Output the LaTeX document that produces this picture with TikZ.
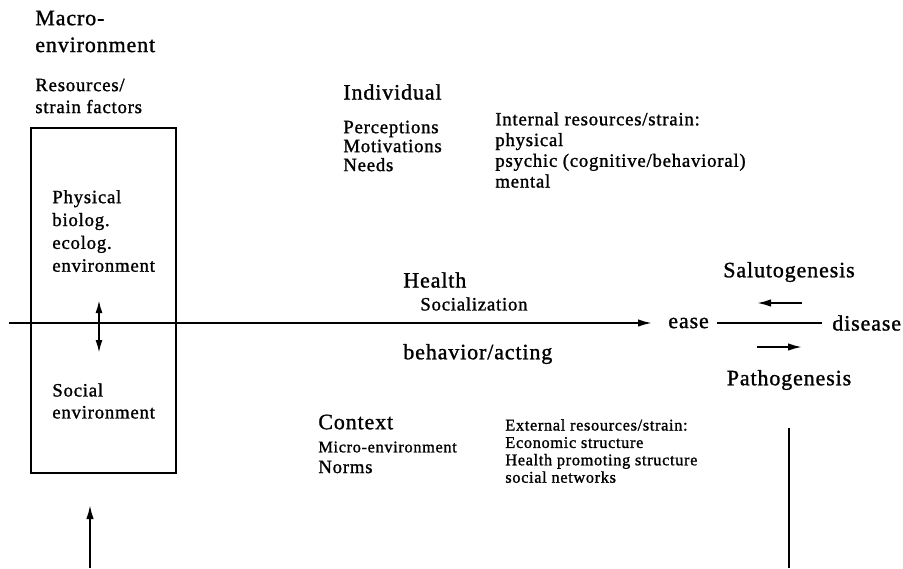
\documentclass[tikz,border=0pt]{standalone}
\usepackage{fontspec}
\setmainfont{Liberation Serif}[LetterSpace=4,FakeBold=1.2]
\usetikzlibrary{arrows.meta}
\begin{document}
\begin{tikzpicture}
\tikzstyle{arrow}=[-{Latex[length=0.28cm,width=0.15cm]}, line width=1.1pt]
\tikzstyle{both}=[{Latex[length=0.26cm,width=0.14cm]}-{Latex[length=0.26cm,width=0.14cm]}, line width=1.1pt]
\tikzstyle{txt}=[anchor=west, inner sep=0pt, align=left]
\tikzstyle{bigfont}=[font=\fontsize{12.5}{15.3}\selectfont]
\tikzstyle{midfont}=[font=\fontsize{10.7}{12.5}\selectfont]
\tikzstyle{smallfont}=[font=\fontsize{9.3}{9.9}\selectfont]
\useasboundingbox (0,0) rectangle (18.06,-11.36);

\draw node[txt, bigfont] (macro) at (0.70,-0.63) {Macro-\\environment};
\draw node[txt, midfont] (res) at (0.70,-1.92) {Resources/\\strain factors};
\draw[line width=1.4pt] (0.62,-2.56) rectangle (3.52,-9.46);
\draw node[txt, font=\fontsize{10.7}{13}\selectfont] (phys) at (1.04,-4.62) {Physical\\biolog.\\ecolog.\\environment};
\draw node[txt, midfont] (soc) at (1.04,-8.02) {Social\\environment};
\coordinate (p1) at (1.98,-6.00);
\coordinate (p2) at (1.98,-7.06);
\draw[both] (p1) -- (p2);

\draw node[txt, bigfont] (indiv) at (6.86,-1.84) {Individual};
\draw node[txt, font=\fontsize{10.7}{10.8}\selectfont] (perc) at (6.86,-2.92) {Perceptions\\Motivations\\Needs};
\draw node[txt, font=\fontsize{10.7}{11.8}\selectfont] (intern) at (9.90,-3.00) {Internal resources/strain:\\physical\\psychic (cognitive/behavioral)\\mental};

\draw node[txt, bigfont] (health) at (8.06,-5.60) {Health};
\draw node[txt, midfont] (socz) at (8.40,-6.08) {Socialization};
\draw node[txt, bigfont] (behav) at (8.06,-7.08) {behavior/acting};

\draw node[txt, bigfont] (ease) at (13.36,-6.46) {ease};
\draw node[txt, bigfont] (dis) at (16.64,-6.46) {disease};
\coordinate (start) at (0.18,-6.46);
\draw[arrow] (start) -- ([xshift=-0.32cm]ease.west);
\draw[line width=1.1pt] ([xshift=0.16cm]ease.east) -- ([xshift=-0.2cm]dis.west);

\draw node[bigfont] (salu) at (15.78,-5.44) {Salutogenesis};
\coordinate (s1) at (16.04,-6.06);
\coordinate (s2) at (15.14,-6.06);
\draw[arrow] (s1) -- (s2);
\coordinate (t1) at (15.14,-6.94);
\coordinate (t2) at (16.04,-6.94);
\draw[arrow] (t1) -- (t2);
\draw node[bigfont] (patho) at (15.78,-7.60) {Pathogenesis};

\draw node[txt, bigfont] (ctx) at (6.36,-8.44) {Context};
\draw node[txt, smallfont] (micro) at (6.36,-8.94) {Micro-environment};
\draw node[txt, midfont] (norms) at (6.36,-9.34) {Norms};
\draw node[txt, smallfont] (extern) at (10.10,-9.02) {External resources/strain:\\Economic structure\\Health promoting structure\\social networks};

\coordinate (b1) at (1.80,-11.36);
\coordinate (b2) at (1.80,-10.10);
\draw[arrow] (b1) -- (b2);
\coordinate (r1) at (15.78,-8.56);
\coordinate (r2) at (15.78,-11.36);
\draw[line width=1.1pt] (r1) -- (r2);

\end{tikzpicture}
\end{document}
